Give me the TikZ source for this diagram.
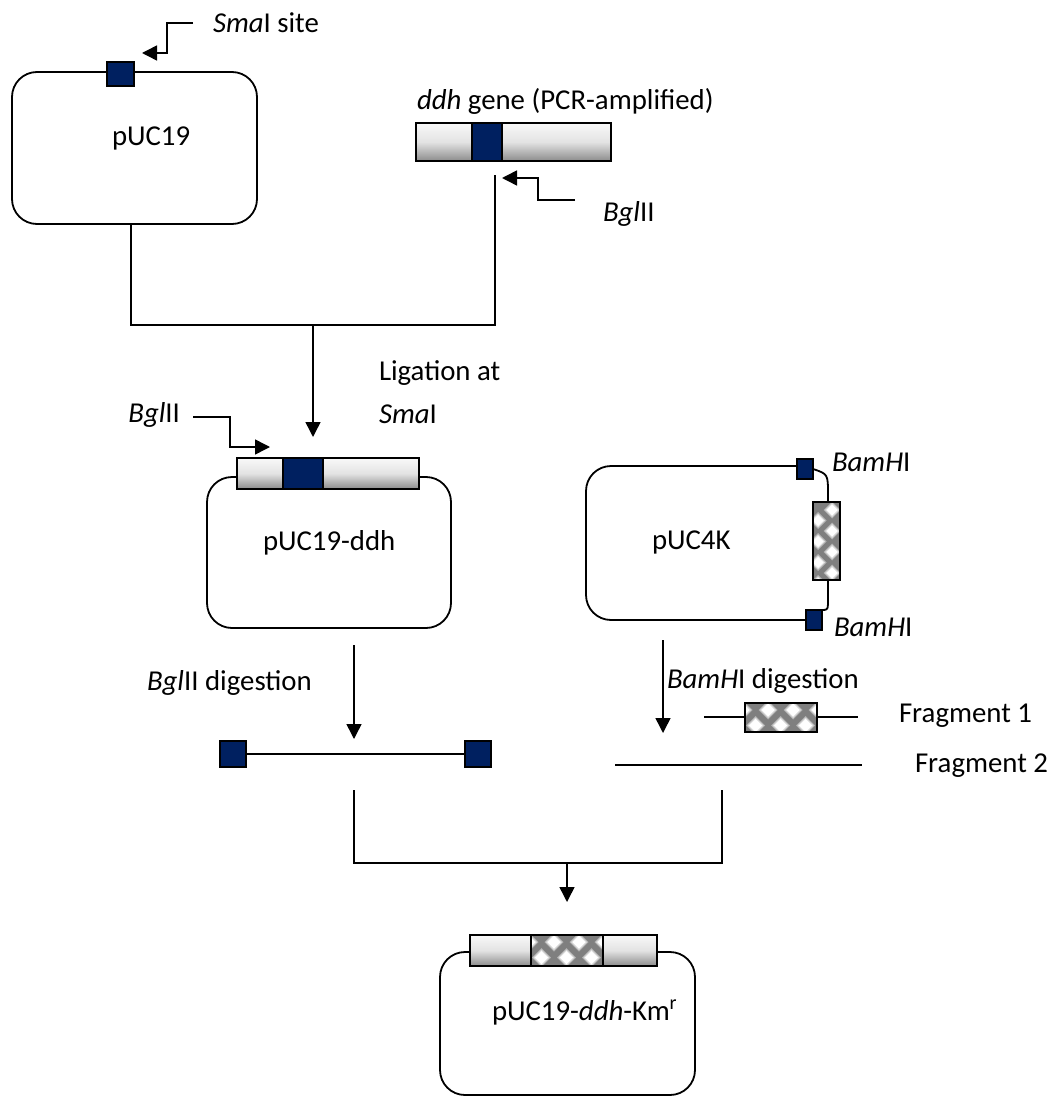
\documentclass[tikz,border=0pt]{standalone}
\usepackage{fontspec}
\setmainfont{Carlito}
\usetikzlibrary{arrows.meta,calc}
\definecolor{navy}{HTML}{002060}
\definecolor{kangray}{HTML}{7F7F7F}

% one soft white diamond of the cassette pattern: centre #1,#2, half diagonal #3
\newcommand{\kandot}[3]{%
  \fill[gray!60] (#1-#3-3,#2) -- (#1,#2-#3-3) -- (#1+#3+3,#2) -- (#1,#2+#3+3) -- cycle;
  \fill[gray!25] (#1-#3-1.5,#2) -- (#1,#2-#3-1.5) -- (#1+#3+1.5,#2) -- (#1,#2+#3+1.5) -- cycle;
  \fill[white] (#1-#3,#2) -- (#1,#2-#3) -- (#1+#3,#2) -- (#1,#2+#3) -- cycle;
}
% horizontal kanamycin cassette: #1,#2 top-left, #3,#4 bottom-right
\newcommand{\kanh}[4]{%
  \fill[kangray] (#1,#2) rectangle (#3,#4);
  \begin{scope}
    \clip (#1,#2) rectangle (#3,#4);
    \foreach \k in {0,1,2,3}{%
      \pgfmathsetmacro\cx{#1+10.5+25*\k}%
      \pgfmathsetmacro\cy{#2+22.5}%
      \pgfmathsetmacro\dx{#1-2+25*\k}%
      \pgfmathsetmacro\dy{#2+7}%
      \kandot{\cx}{\cy}{6.5}
      \kandot{\dx}{\dy}{6.5}
    }
  \end{scope}
  \draw[line width=0.8pt] (#1,#2) rectangle (#3,#4);
}
% vertical kanamycin cassette
\newcommand{\kanv}[4]{%
  \fill[kangray] (#1,#2) rectangle (#3,#4);
  \begin{scope}
    \clip (#1,#2) rectangle (#3,#4);
    \foreach \k in {0,1,2,3}{%
      \pgfmathsetmacro\cx{#1+19}%
      \pgfmathsetmacro\cy{#2+8+21*\k}%
      \pgfmathsetmacro\dx{#1+5}%
      \pgfmathsetmacro\dy{#2+18.5+21*\k}%
      \kandot{\cx}{\cy}{5.5}
      \kandot{\dx}{\dy}{5.5}
    }
  \end{scope}
  \draw[line width=0.8pt] (#1,#2) rectangle (#3,#4);
}

\begin{document}
\begin{tikzpicture}[x=0.5pt,y=-0.5pt,
  every node/.style={font=\fontsize{14.4}{17}\selectfont, inner sep=0pt, outer sep=0pt},
  plasmid/.style={draw, rounded corners=12.5pt, line width=0.9pt},
  site/.style={draw, fill=navy, line width=0.6pt, minimum width=13.5pt, minimum height=12pt},
  genebar/.style={draw, line width=0.7pt, top color=gray!5, bottom color=gray!90, middle color=gray!22},
  core/.style={draw, fill=navy, line width=0.7pt},
  flow/.style={line width=0.75pt},
  arr/.style={flow, -{Triangle[length=7.5pt,width=7.5pt]}},
  lbl/.style={anchor=base west}]
\useasboundingbox (0,0) rectangle (1047,1107);

% ---------- pUC19 ----------
\node[plasmid, minimum width=122.5pt, minimum height=76pt] (p19) at (134.5,148) {};
\node[site] (sma) at (120.5,74) {};
\node[lbl] (p19t) at (112,146) {pUC19};
\node[lbl] (smat) at (213,33) {\textit{Sma}I site};
\coordinate (smaA) at (193,23);
\coordinate (smaB) at (167,23);
\coordinate (smaC) at (167,53);
\coordinate (smaTip) at (142,53);
\draw[arr] (smaA) -- (smaB) -- (smaC) -- (smaTip);

% ---------- ddh gene ----------
\node[genebar, minimum width=97.5pt, minimum height=19pt] (ddh) at (513.5,142) {};
\node[core, minimum width=15pt, minimum height=19pt] (ddhcore) at (487,142) {};
\node[lbl] (ddht) at (417,110) {\textit{ddh} gene (PCR-amplified)};
\node[lbl] (bglr) at (603,221) {\textit{Bgl}II};
\coordinate (bglrA) at (575,200);
\coordinate (bglrB) at (538,200);
\coordinate (bglrC) at (538,178);
\coordinate (bglrTip) at (502,178);
\draw[arr] (bglrA) -- (bglrB) -- (bglrC) -- (bglrTip);

% ---------- ligation ----------
\coordinate (ddhend) at (495,175);
\coordinate (join1) at (313,325);
\coordinate (ligtip) at (313,437);
\draw[flow] ([xshift=-1.75pt]p19.south) |- (ddhend |- join1) -- (ddhend);
\draw[arr] (join1) -- (ligtip);
\node[lbl] (ligt) at (379,380) {Ligation at};
\node[lbl] (ligs) at (379,423) {\textit{Sma}I};
\node[anchor=base east] (bgll) at (180,422) {\textit{Bgl}II};
\coordinate (bgllA) at (193,417);
\coordinate (bgllB) at (230,417);
\coordinate (bgllC) at (230,447);
\coordinate (bgllTip) at (270,447);
\draw[arr] (bgllA) -- (bgllB) -- (bgllC) -- (bgllTip);

% ---------- pUC19-ddh ----------
\node[plasmid, minimum width=122pt, minimum height=75.5pt] (p19d) at (329,552.5) {};
\node[genebar, minimum width=91pt, minimum height=15.5pt] (insbar) at (328,473.5) {};
\node[core, minimum width=20pt, minimum height=15.5pt] (inscore) at (303,473.5) {};
\node[lbl] (p19dt) at (263,550) {pUC19-ddh};

% ---------- pUC4K ----------
\draw[plasmid] (797,466) -- (586,466) -- (586,620) -- (806,620);
\kanv{813}{502}{840}{580}
\node[minimum width=13.5pt, minimum height=39pt] (kan) at (826.5,541) {};
\node[site, minimum width=8pt, minimum height=10pt] (bamT) at (805,469) {};
\node[site, minimum width=8pt, minimum height=10pt] (bamB) at (814,620) {};
\draw[line width=0.9pt] (bamT.east) .. controls (828,474) .. (828,495) -- ([xshift=0.75pt]kan.north);
\draw[line width=0.9pt] ([xshift=0.75pt]kan.south) -- (828,598) .. controls (828,610) .. (bamB.north east);
\node[lbl] (bamTt) at (832,471) {\textit{BamH}I};
\node[lbl] (bamBt) at (834,636) {\textit{BamH}I};
\node[lbl] (p4kt) at (652,549) {pUC4K};

% ---------- digestions ----------
\coordinate (dgA) at (354,645);
\coordinate (dgTip) at (354,739);
\draw[arr] (dgA) -- (dgTip);
\node[lbl] (bgldig) at (147,690) {\textit{Bgl}II digestion};
\node[site, minimum width=13pt, minimum height=13pt] (fragL) at (233,754) {};
\node[site, minimum width=13pt, minimum height=13pt] (fragR) at (478,754) {};
\draw[flow] (fragL.east) -- (fragR.west);

\coordinate (bdA) at (663,640);
\coordinate (bdTip) at (663,733);
\draw[arr] (bdA) -- (bdTip);
\node[lbl] (bamdig) at (667,688) {\textit{BamH}I digestion};

\coordinate (f1L) at (704,717);
\coordinate (f1R) at (858,717);
\draw[flow] (f1L) -- (f1R);
\kanh{745}{703}{817}{732}
\node[lbl] (f1t) at (899,722) {Fragment 1};

\coordinate (f2L) at (615,765);
\coordinate (f2R) at (862,765);
\draw[flow] (f2L) -- (f2R);
\node[lbl] (f2t) at (915,772) {Fragment 2};

% ---------- final construct ----------
\coordinate (jl) at (354,790);
\coordinate (jr) at (722,790);
\coordinate (jm) at (567,863);
\coordinate (jTip) at (567,902);
\draw[flow] (jl) |- (jr |- jm) -- (jr);
\draw[arr] (jm) -- (jTip);

\node[plasmid, minimum width=127.5pt, minimum height=71.5pt] (fin) at (567.5,1023.5) {};
\node[genebar, minimum width=93.5pt, minimum height=15.5pt] (finbar) at (563.5,950.5) {};
\kanh{531}{935}{603}{966}
\node[lbl] (fint) at (492,1020) {pUC19-\textit{ddh}-Km\textsuperscript{r}};
\end{tikzpicture}
\end{document}
